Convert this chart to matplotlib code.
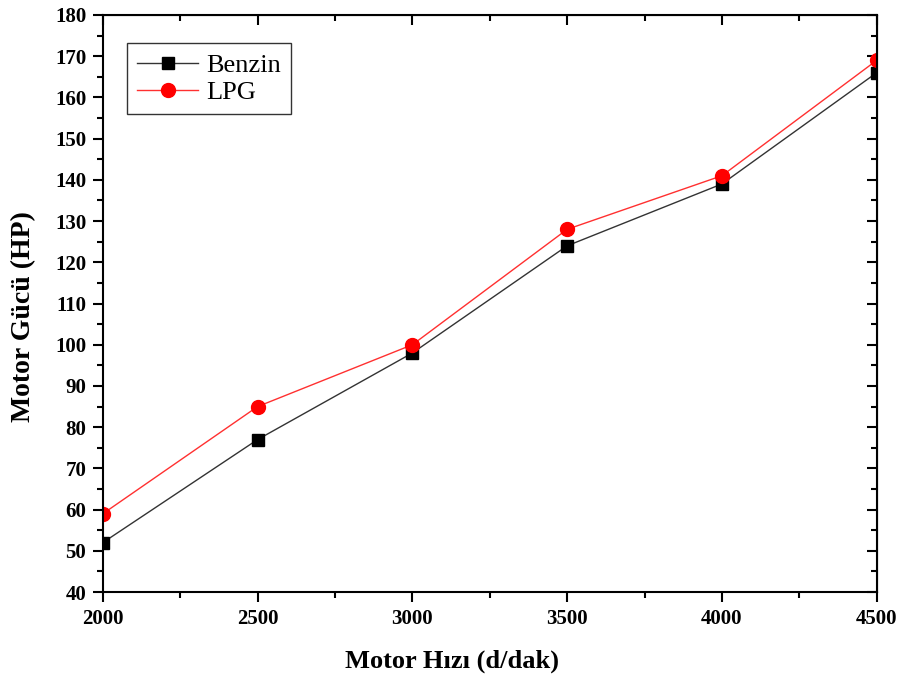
import matplotlib
matplotlib.use('Agg')
import matplotlib.pyplot as plt
from matplotlib.ticker import MultipleLocator

# data
speed = [2000, 2500, 3000, 3500, 4000, 4500]
benzin = [52, 77, 98, 124, 139, 166]
lpg = [59, 85, 100, 128, 141, 169]

plt.rcParams['font.family'] = 'Liberation Serif'

fig = plt.figure(figsize=(9.02, 6.79), dpi=100)
ax = fig.add_axes([0.114, 0.128, 0.858, 0.85])

ax.plot(speed, benzin, color='#333333', lw=1, marker='s', ms=8,
        mfc='black', mec='black', label='Benzin')
ax.plot(speed, lpg, color='#ff3030', lw=1, marker='o', ms=10,
        mfc='red', mec='red', label='LPG')

ax.set_xlim(2000, 4500)
ax.set_ylim(40, 180)
ax.xaxis.set_major_locator(MultipleLocator(500))
ax.xaxis.set_minor_locator(MultipleLocator(250))
ax.yaxis.set_major_locator(MultipleLocator(10))
ax.yaxis.set_minor_locator(MultipleLocator(5))

for s in ax.spines.values():
    s.set_linewidth(1.5)

ax.tick_params(which='both', direction='out', width=1.5, top=False, right=False)
ax.tick_params(which='major', length=7)
ax.tick_params(which='minor', length=4)
ax.tick_params(axis='both', labelsize=15, pad=5)
for lbl in ax.get_xticklabels() + ax.get_yticklabels():
    lbl.set_fontweight('bold')

# mirrored inner ticks on top and right
axt = ax.secondary_xaxis('top')
axt.xaxis.set_major_locator(MultipleLocator(500))
axt.xaxis.set_minor_locator(MultipleLocator(250))
axt.tick_params(which='both', direction='in', width=1.5, labeltop=False)
axt.tick_params(which='major', length=7)
axt.tick_params(which='minor', length=4)
axr = ax.secondary_yaxis('right')
axr.yaxis.set_major_locator(MultipleLocator(10))
axr.yaxis.set_minor_locator(MultipleLocator(5))
axr.tick_params(which='both', direction='in', width=1.5, labelright=False)
axr.tick_params(which='major', length=7)
axr.tick_params(which='minor', length=4)

ax.set_xlabel('Motor Hızı (d/dak)', fontsize=19, fontweight='bold')
ax.set_ylabel('Motor Gücü (HP)', fontsize=20, fontweight='bold')
ax.xaxis.set_label_coords(0.451, -0.1)
ax.yaxis.set_label_coords(-0.086, 0.478)

leg = ax.legend(loc='upper left', bbox_to_anchor=(0.031, 0.951), fontsize=19,
                borderaxespad=0, frameon=True, fancybox=False,
                edgecolor='black', handlelength=2.3, borderpad=0.4,
                labelspacing=0.12, handletextpad=0.3)
leg.get_frame().set_linewidth(1)

fig.savefig('out.png', dpi=100)
